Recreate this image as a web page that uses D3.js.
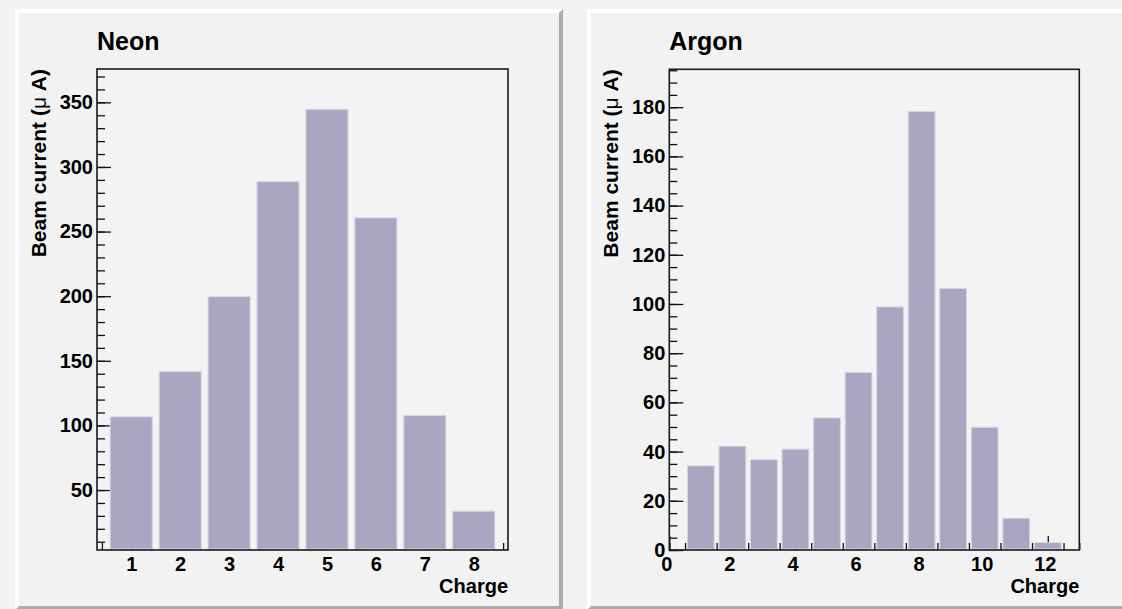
<!DOCTYPE html>
<html><head><meta charset="utf-8">
<script src="https://cdn.jsdelivr.net/npm/d3@7"></script>
<style>
body{margin:0;background:#f2f2f2;}
svg{display:block;}
text{font-family:"Liberation Sans",Arial,Helvetica,sans-serif;font-weight:bold;fill:#000;}
</style>
</head><body>
<svg id="c" width="1122" height="609"></svg>
<script>
// ---- data ----
const neonCharges = [1, 2, 3, 4, 5, 6, 7, 8];
const neonCurrent = [107, 142, 200, 289, 345, 261, 108, 34];
const neonXTickLabels = [1, 2, 3, 4, 5, 6, 7, 8];
const neonYTickLabels = [50, 100, 150, 200, 250, 300, 350];

const argonCharges = [1, 2, 3, 4, 5, 6, 7, 8, 9, 10, 11, 12];
const argonCurrent = [34.4, 42.4, 36.9, 41.2, 53.9, 72.4, 99, 178.5, 106.5, 50.1, 13.1, 3.2];
const argonXTickLabels = [0, 2, 4, 6, 8, 10, 12];
const argonYTickLabels = [0, 20, 40, 60, 80, 100, 120, 140, 160, 180];

const titles = ["Neon", "Argon"];
const xTitle = "Charge";

// ---- layout ----
const svg = d3.select("#c");
svg.append("rect").attr("width", 1122).attr("height", 609).attr("fill", "#f2f2f2");

const panels = [
  {title: titles[0], pad: [15, 9, 563, 610], frame: [97, 69, 508, 550],
   xDom: [0.3, 8.7], yDom: [3.6, 375.8], cats: neonCharges, vals: neonCurrent,
   xTicks: neonXTickLabels, yTicks: neonYTickLabels, xMinorStep: 0.2, yMinorStep: 10, xLabelDx: 0},
  {title: titles[1], pad: [587, 9, 1135, 610], frame: [669.3, 69.3, 1079.3, 550],
   xDom: [0, 13], yDom: [0, 195.4], cats: argonCharges, vals: argonCurrent,
   xTicks: argonXTickLabels, yTicks: argonYTickLabels, xMinorStep: 0.5, yMinorStep: 5, xLabelDx: -3}
];

const barFill = "#aaa6c1", barEdge = "#d6d4e2";
const bw = 4;

panels.forEach(p => {
  const [px0, py0, px1, py1] = p.pad;
  const g = svg.append("g");
  g.append("rect").attr("x", px0).attr("y", py0).attr("width", px1 - px0).attr("height", py1 - py0).attr("fill", "#f2f2f2");
  g.append("path").attr("fill", "#ffffff")
    .attr("d", `M${px0},${py1}L${px0},${py0}L${px1},${py0}L${px1-bw},${py0+bw}L${px0+bw},${py0+bw}L${px0+bw},${py1-bw}Z`);
  g.append("path").attr("fill", "#ababab")
    .attr("d", `M${px1},${py0}L${px1},${py1}L${px0},${py1}L${px0+bw},${py1-bw}L${px1-bw},${py1-bw}L${px1-bw},${py0+bw}Z`);

  const [fx0, fy0, fx1, fy1] = p.frame;
  const x = d3.scaleLinear().domain(p.xDom).range([fx0, fx1]);
  const y = d3.scaleLinear().domain(p.yDom).range([fy1, fy0]);
  const binW = x(1) - x(0);

  g.append("rect").attr("x", fx0).attr("y", fy0).attr("width", fx1 - fx0).attr("height", fy1 - fy0).attr("fill", "#f3f3f3");

  const eps = 1e-6;
  const xMinor = d3.range(Math.ceil(p.xDom[0] / p.xMinorStep - eps) * p.xMinorStep, p.xDom[1] + eps, p.xMinorStep);
  const yMinor = d3.range(Math.ceil(p.yDom[0] / p.yMinorStep - eps) * p.yMinorStep, p.yDom[1] + eps, p.yMinorStep);

  const xMinorAxis = d3.axisBottom(x).tickValues(xMinor).tickSize(-7).tickFormat("");
  const yMinorAxis = d3.axisLeft(y).tickValues(yMinor).tickSize(-8).tickFormat("");
  const xMajorAxis = d3.axisBottom(x).tickValues(p.xTicks).tickSize(-14).tickPadding(7).tickFormat(d3.format("d"));
  const yMajorAxis = d3.axisLeft(y).tickValues(p.yTicks).tickSize(-14).tickPadding(4).tickFormat(d3.format("d"));

  const styleAxis = sel => {
    sel.select(".domain").remove();
    sel.selectAll(".tick line").attr("stroke", "#111").attr("stroke-width", 1.3);
    sel.selectAll("text").attr("font-size", 20).attr("font-family", '"Liberation Sans",Arial,sans-serif').attr("font-weight", "bold").attr("fill", "#000");
  };
  g.append("g").attr("transform", `translate(0,${fy1})`).call(xMinorAxis).call(styleAxis);
  g.append("g").attr("transform", `translate(${fx0},0)`).call(yMinorAxis).call(styleAxis);
  const xa = g.append("g").attr("transform", `translate(0,${fy1})`).call(xMajorAxis).call(styleAxis);
  xa.selectAll("text").attr("dx", p.xLabelDx);
  g.append("g").attr("transform", `translate(${fx0},0)`).call(yMajorAxis).call(styleAxis);

  const frac = 0.88;
  g.append("g").selectAll("rect").data(p.cats.map((c, i) => ({c, v: p.vals[i]}))).join("rect")
    .attr("x", d => x(d.c - frac / 2) + 0.5)
    .attr("width", binW * frac - 1)
    .attr("y", d => y(d.v) + 0.5)
    .attr("height", d => Math.max(0, fy1 - 1.5 - y(d.v)))
    .attr("fill", barFill)
    .attr("stroke", barEdge)
    .attr("stroke-width", 1);

  g.append("rect").attr("x", fx0).attr("y", fy0).attr("width", fx1 - fx0).attr("height", fy1 - fy0)
    .attr("fill", "none").attr("stroke", "#1a1a1a").attr("stroke-width", 1.6);

  g.append("text").attr("x", fx0).attr("y", 50).attr("font-size", 25).text(p.title);
  g.append("text").attr("x", fx1).attr("y", 593).attr("text-anchor", "end").attr("font-size", 20).text(xTitle);

  const yt = g.append("text").attr("transform", `translate(${fx0 - 51},${fy0}) rotate(-90)`)
    .attr("text-anchor", "end").attr("font-size", 21);
  yt.append("tspan").text("Beam current (");
  yt.append("tspan").attr("font-weight", "normal").text("\u03bc");
  yt.append("tspan").text(" A)");
});
</script>
</body></html>
